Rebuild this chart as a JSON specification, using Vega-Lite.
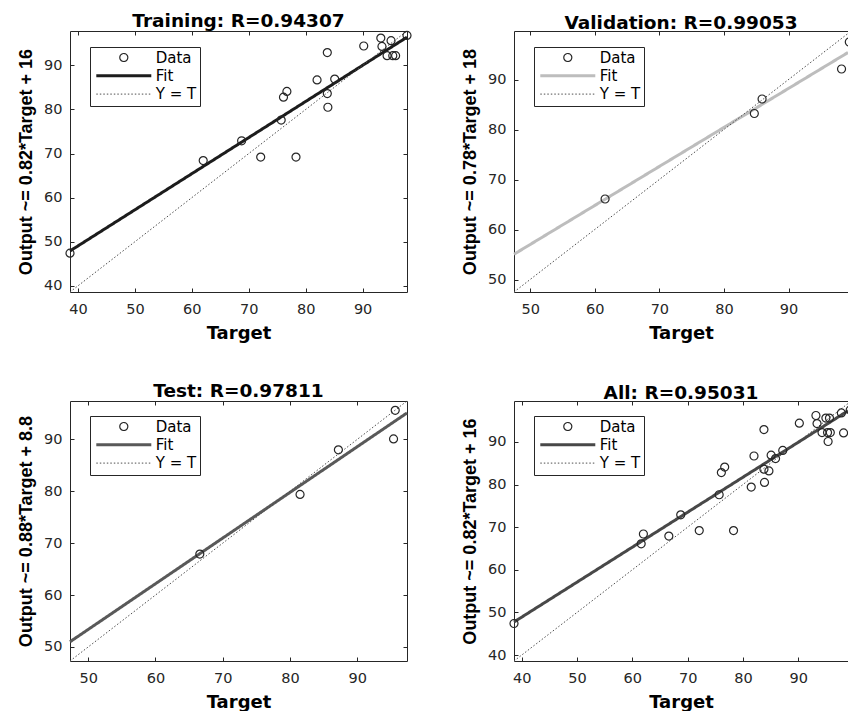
{
  "$schema": "https://vega.github.io/schema/vega-lite/v6.json",
  "background": "white",
  "padding": {"left": 17, "top": 12, "right": 0, "bottom": 0},
  "autosize": {"type": "pad"},
  "columns": 2,
  "spacing": {"row": 109, "column": 107},
  "bounds": "flush",
  "data": {"values": [
    {"panel": "Training", "series": "Data", "Target": 38.6, "Output": 47.4},
    {"panel": "Training", "series": "Data", "Target": 62.0, "Output": 68.4},
    {"panel": "Training", "series": "Data", "Target": 68.75, "Output": 72.9},
    {"panel": "Training", "series": "Data", "Target": 72.1, "Output": 69.2},
    {"panel": "Training", "series": "Data", "Target": 78.3, "Output": 69.2},
    {"panel": "Training", "series": "Data", "Target": 75.7, "Output": 77.6},
    {"panel": "Training", "series": "Data", "Target": 76.1, "Output": 82.8},
    {"panel": "Training", "series": "Data", "Target": 76.7, "Output": 84.1},
    {"panel": "Training", "series": "Data", "Target": 82.0, "Output": 86.7},
    {"panel": "Training", "series": "Data", "Target": 83.8, "Output": 92.9},
    {"panel": "Training", "series": "Data", "Target": 83.8, "Output": 83.6},
    {"panel": "Training", "series": "Data", "Target": 83.9, "Output": 80.5},
    {"panel": "Training", "series": "Data", "Target": 85.1, "Output": 86.9},
    {"panel": "Training", "series": "Data", "Target": 90.2, "Output": 94.4},
    {"panel": "Training", "series": "Data", "Target": 93.2, "Output": 96.2},
    {"panel": "Training", "series": "Data", "Target": 93.4, "Output": 94.3},
    {"panel": "Training", "series": "Data", "Target": 95.0, "Output": 95.6},
    {"panel": "Training", "series": "Data", "Target": 94.3, "Output": 92.2},
    {"panel": "Training", "series": "Data", "Target": 95.3, "Output": 92.2},
    {"panel": "Training", "series": "Data", "Target": 95.8, "Output": 92.2},
    {"panel": "Training", "series": "Data", "Target": 97.8, "Output": 96.8},
    {"panel": "Training", "series": "Fit", "Target": 38.6, "Output": 47.9},
    {"panel": "Training", "series": "Fit", "Target": 97.8, "Output": 96.4},
    {"panel": "Training", "series": "Y = T", "Target": 38.6, "Output": 38.6},
    {"panel": "Training", "series": "Y = T", "Target": 97.8, "Output": 97.8},

    {"panel": "Validation", "series": "Data", "Target": 61.6, "Output": 66.1},
    {"panel": "Validation", "series": "Data", "Target": 84.7, "Output": 83.2},
    {"panel": "Validation", "series": "Data", "Target": 85.9, "Output": 86.1},
    {"panel": "Validation", "series": "Data", "Target": 98.2, "Output": 92.1},
    {"panel": "Validation", "series": "Data", "Target": 99.4, "Output": 97.5},
    {"panel": "Validation", "series": "Fit", "Target": 47.5, "Output": 55.05},
    {"panel": "Validation", "series": "Fit", "Target": 99.2, "Output": 95.4},
    {"panel": "Validation", "series": "Y = T", "Target": 47.5, "Output": 47.5},
    {"panel": "Validation", "series": "Y = T", "Target": 99.2, "Output": 99.2},

    {"panel": "Test", "series": "Data", "Target": 66.6, "Output": 67.9},
    {"panel": "Test", "series": "Data", "Target": 81.5, "Output": 79.4},
    {"panel": "Test", "series": "Data", "Target": 87.2, "Output": 88.0},
    {"panel": "Test", "series": "Data", "Target": 95.4, "Output": 90.1},
    {"panel": "Test", "series": "Data", "Target": 95.65, "Output": 95.6},
    {"panel": "Test", "series": "Fit", "Target": 47.3, "Output": 51.0},
    {"panel": "Test", "series": "Fit", "Target": 97.4, "Output": 95.1},
    {"panel": "Test", "series": "Y = T", "Target": 47.3, "Output": 47.3},
    {"panel": "Test", "series": "Y = T", "Target": 97.4, "Output": 97.4},

    {"panel": "All", "series": "Data", "Target": 38.6, "Output": 47.4},
    {"panel": "All", "series": "Data", "Target": 62.0, "Output": 68.4},
    {"panel": "All", "series": "Data", "Target": 68.75, "Output": 72.9},
    {"panel": "All", "series": "Data", "Target": 72.1, "Output": 69.2},
    {"panel": "All", "series": "Data", "Target": 78.3, "Output": 69.2},
    {"panel": "All", "series": "Data", "Target": 75.7, "Output": 77.6},
    {"panel": "All", "series": "Data", "Target": 76.1, "Output": 82.8},
    {"panel": "All", "series": "Data", "Target": 76.7, "Output": 84.1},
    {"panel": "All", "series": "Data", "Target": 82.0, "Output": 86.7},
    {"panel": "All", "series": "Data", "Target": 83.8, "Output": 92.9},
    {"panel": "All", "series": "Data", "Target": 83.8, "Output": 83.6},
    {"panel": "All", "series": "Data", "Target": 83.9, "Output": 80.5},
    {"panel": "All", "series": "Data", "Target": 85.1, "Output": 86.9},
    {"panel": "All", "series": "Data", "Target": 90.2, "Output": 94.4},
    {"panel": "All", "series": "Data", "Target": 93.2, "Output": 96.2},
    {"panel": "All", "series": "Data", "Target": 93.4, "Output": 94.3},
    {"panel": "All", "series": "Data", "Target": 95.0, "Output": 95.6},
    {"panel": "All", "series": "Data", "Target": 94.3, "Output": 92.2},
    {"panel": "All", "series": "Data", "Target": 95.3, "Output": 92.2},
    {"panel": "All", "series": "Data", "Target": 95.8, "Output": 92.2},
    {"panel": "All", "series": "Data", "Target": 97.8, "Output": 96.8},
    {"panel": "All", "series": "Data", "Target": 61.6, "Output": 66.1},
    {"panel": "All", "series": "Data", "Target": 84.7, "Output": 83.2},
    {"panel": "All", "series": "Data", "Target": 85.9, "Output": 86.1},
    {"panel": "All", "series": "Data", "Target": 98.2, "Output": 92.1},
    {"panel": "All", "series": "Data", "Target": 99.4, "Output": 97.5},
    {"panel": "All", "series": "Data", "Target": 66.6, "Output": 67.9},
    {"panel": "All", "series": "Data", "Target": 81.5, "Output": 79.4},
    {"panel": "All", "series": "Data", "Target": 87.2, "Output": 88.0},
    {"panel": "All", "series": "Data", "Target": 95.4, "Output": 90.1},
    {"panel": "All", "series": "Data", "Target": 95.65, "Output": 95.6},
    {"panel": "All", "series": "Fit", "Target": 38.6, "Output": 47.75},
    {"panel": "All", "series": "Fit", "Target": 99.0, "Output": 97.3},
    {"panel": "All", "series": "Y = T", "Target": 38.6, "Output": 38.6},
    {"panel": "All", "series": "Y = T", "Target": 99.0, "Output": 99.0}
  ]},
  "resolve": {
    "scale": {"shape": "independent", "stroke": "independent", "strokeDash": "independent", "strokeWidth": "independent"},
    "legend": {"shape": "independent", "stroke": "independent", "strokeDash": "independent", "strokeWidth": "independent"}
  },
  "concat": [
    {
      "title": {"text": "Training: R=0.94307"},
      "width": 337, "height": 261,
      "resolve": {"axis": {"x": "independent", "y": "independent"}},
      "layer": [
        {
          "transform": [{"filter": "datum.panel === 'Training' && datum.series !== 'Data'"}],
          "mark": {"type": "line", "strokeCap": "butt"},
          "encoding": {
            "x": {"field": "Target", "type": "quantitative", "scale": {"domain": [38.6, 97.8], "nice": false, "zero": false},
                  "axis": {"orient": "top", "values": [40, 50, 60, 70, 80, 90], "labels": false, "title": null}},
            "y": {"field": "Output", "type": "quantitative", "scale": {"domain": [38.6, 97.8], "nice": false, "zero": false},
                  "axis": {"orient": "right", "values": [40, 50, 60, 70, 80, 90], "labels": false, "title": null}},
            "stroke": {"field": "series", "type": "nominal", "scale": {"domain": ["Data", "Fit", "Y = T"], "range": ["#262626", "#1c1c1c", "#4d4d4d"]}, "legend": {"title": null, "orient": "none", "legendX": 20, "legendY": 16}},
            "strokeDash": {"field": "series", "type": "nominal", "scale": {"domain": ["Data", "Fit", "Y = T"], "range": [[1, 0], [1, 0], [1.5, 2]]}, "legend": {"title": null, "orient": "none", "legendX": 20, "legendY": 16}},
            "strokeWidth": {"field": "series", "type": "nominal", "scale": {"type": "ordinal", "domain": ["Data", "Fit", "Y = T"], "range": [1.2, 3, 1]}, "legend": {"title": null, "orient": "none", "legendX": 20, "legendY": 16}}
          }
        },
        {
          "transform": [{"filter": "datum.panel === 'Training' && datum.series === 'Data'"}],
          "mark": {"type": "point", "filled": false, "size": 64, "strokeWidth": 1.2, "opacity": 1},
          "encoding": {
            "x": {"field": "Target", "type": "quantitative", "scale": {"domain": [38.6, 97.8], "nice": false, "zero": false},
                  "axis": {"orient": "bottom", "values": [40, 50, 60, 70, 80, 90], "title": "Target", "labelPadding": 14, "titlePadding": 9}},
            "y": {"field": "Output", "type": "quantitative", "scale": {"domain": [38.6, 97.8], "nice": false, "zero": false},
                  "axis": {"orient": "left", "values": [40, 50, 60, 70, 80, 90], "title": "Output ~= 0.82*Target + 16", "titleFont": "Liberation Sans", "labelPadding": 12, "titlePadding": 8}},
            "shape": {"field": "series", "type": "nominal", "scale": {"domain": ["Data", "Fit", "Y = T"], "range": ["circle", "M-6.875,0H6.875", "M-6.875,0H6.875"]}, "legend": {"title": null, "orient": "none", "legendX": 20, "legendY": 16}},
            "stroke": {"field": "series", "type": "nominal", "scale": {"domain": ["Data", "Fit", "Y = T"], "range": ["#262626", "#1c1c1c", "#4d4d4d"]}, "legend": {"title": null, "orient": "none", "legendX": 20, "legendY": 16}}
          }
        }
      ]
    },
    {
      "title": {"text": "Validation: R=0.99053"},
      "width": 334, "height": 261,
      "resolve": {"axis": {"x": "independent", "y": "independent"}},
      "layer": [
        {
          "transform": [{"filter": "datum.panel === 'Validation' && datum.series !== 'Data'"}],
          "mark": {"type": "line", "strokeCap": "butt"},
          "encoding": {
            "x": {"field": "Target", "type": "quantitative", "scale": {"domain": [47.5, 99.2], "nice": false, "zero": false},
                  "axis": {"orient": "top", "values": [50, 60, 70, 80, 90], "labels": false, "title": null}},
            "y": {"field": "Output", "type": "quantitative", "scale": {"domain": [47.5, 99.7], "nice": false, "zero": false}, "axis": null},
            "stroke": {"field": "series", "type": "nominal", "scale": {"domain": ["Data", "Fit", "Y = T"], "range": ["#262626", "#bdbdbd", "#4d4d4d"]}, "legend": {"title": null, "orient": "none", "legendX": 20, "legendY": 16}},
            "strokeDash": {"field": "series", "type": "nominal", "scale": {"domain": ["Data", "Fit", "Y = T"], "range": [[1, 0], [1, 0], [1.5, 2]]}, "legend": {"title": null, "orient": "none", "legendX": 20, "legendY": 16}},
            "strokeWidth": {"field": "series", "type": "nominal", "scale": {"type": "ordinal", "domain": ["Data", "Fit", "Y = T"], "range": [1.2, 3, 1]}, "legend": {"title": null, "orient": "none", "legendX": 20, "legendY": 16}}
          }
        },
        {
          "transform": [{"filter": "datum.panel === 'Validation' && datum.series === 'Data' && datum.Target < 99"}],
          "mark": {"type": "point", "filled": false, "size": 64, "strokeWidth": 1.2, "opacity": 1},
          "encoding": {
            "x": {"field": "Target", "type": "quantitative", "scale": {"domain": [47.5, 99.2], "nice": false, "zero": false},
                  "axis": {"orient": "bottom", "values": [50, 60, 70, 80, 90], "title": "Target", "labelPadding": 14, "titlePadding": 9}},
            "y": {"field": "Output", "type": "quantitative", "scale": {"domain": [47.5, 99.7], "nice": false, "zero": false},
                  "axis": {"orient": "left", "values": [50, 60, 70, 80, 90], "title": "Output ~= 0.78*Target + 18", "titleFont": "Liberation Sans", "labelPadding": 12, "titlePadding": 8}},
            "shape": {"field": "series", "type": "nominal", "scale": {"domain": ["Data", "Fit", "Y = T"], "range": ["circle", "M-6.875,0H6.875", "M-6.875,0H6.875"]}, "legend": {"title": null, "orient": "none", "legendX": 20, "legendY": 16}},
            "stroke": {"field": "series", "type": "nominal", "scale": {"domain": ["Data", "Fit", "Y = T"], "range": ["#262626", "#bdbdbd", "#4d4d4d"]}, "legend": {"title": null, "orient": "none", "legendX": 20, "legendY": 16}}
          }
        },
        {
          "transform": [{"filter": "datum.panel === 'Validation' && datum.series === 'Data' && datum.Target >= 99"}],
          "mark": {"type": "point", "filled": false, "size": 64, "strokeWidth": 1.2, "opacity": 1, "clip": true},
          "encoding": {
            "x": {"field": "Target", "type": "quantitative", "axis": null},
            "y": {"field": "Output", "type": "quantitative", "axis": null},
            "shape": {"field": "series", "type": "nominal", "scale": {"domain": ["Data", "Fit", "Y = T"], "range": ["circle", "M-6.875,0H6.875", "M-6.875,0H6.875"]}, "legend": {"title": null, "orient": "none", "legendX": 20, "legendY": 16}},
            "stroke": {"field": "series", "type": "nominal", "scale": {"domain": ["Data", "Fit", "Y = T"], "range": ["#262626", "#bdbdbd", "#4d4d4d"]}, "legend": {"title": null, "orient": "none", "legendX": 20, "legendY": 16}}
          }
        }
      ]
    },
    {
      "title": {"text": "Test: R=0.97811"},
      "width": 337, "height": 260,
      "resolve": {"axis": {"x": "independent", "y": "independent"}},
      "layer": [
        {
          "transform": [{"filter": "datum.panel === 'Test' && datum.series !== 'Data'"}],
          "mark": {"type": "line", "strokeCap": "butt"},
          "encoding": {
            "x": {"field": "Target", "type": "quantitative", "scale": {"domain": [47.3, 97.4], "nice": false, "zero": false},
                  "axis": {"orient": "top", "values": [50, 60, 70, 80, 90], "labels": false, "title": null}},
            "y": {"field": "Output", "type": "quantitative", "scale": {"domain": [47.3, 97.4], "nice": false, "zero": false},
                  "axis": {"orient": "right", "values": [50, 60, 70, 80, 90], "labels": false, "title": null}},
            "stroke": {"field": "series", "type": "nominal", "scale": {"domain": ["Data", "Fit", "Y = T"], "range": ["#262626", "#595959", "#4d4d4d"]}, "legend": {"title": null, "orient": "none", "legendX": 20, "legendY": 15}},
            "strokeDash": {"field": "series", "type": "nominal", "scale": {"domain": ["Data", "Fit", "Y = T"], "range": [[1, 0], [1, 0], [1.5, 2]]}, "legend": {"title": null, "orient": "none", "legendX": 20, "legendY": 15}},
            "strokeWidth": {"field": "series", "type": "nominal", "scale": {"type": "ordinal", "domain": ["Data", "Fit", "Y = T"], "range": [1.2, 3, 1]}, "legend": {"title": null, "orient": "none", "legendX": 20, "legendY": 15}}
          }
        },
        {
          "transform": [{"filter": "datum.panel === 'Test' && datum.series === 'Data'"}],
          "mark": {"type": "point", "filled": false, "size": 64, "strokeWidth": 1.2, "opacity": 1},
          "encoding": {
            "x": {"field": "Target", "type": "quantitative", "scale": {"domain": [47.3, 97.4], "nice": false, "zero": false},
                  "axis": {"orient": "bottom", "values": [50, 60, 70, 80, 90], "title": "Target", "labelPadding": 14, "titlePadding": 9}},
            "y": {"field": "Output", "type": "quantitative", "scale": {"domain": [47.3, 97.4], "nice": false, "zero": false},
                  "axis": {"orient": "left", "values": [50, 60, 70, 80, 90], "title": "Output ~= 0.88*Target + 8.8", "titleFont": "Liberation Sans", "labelPadding": 12, "titlePadding": 8}},
            "shape": {"field": "series", "type": "nominal", "scale": {"domain": ["Data", "Fit", "Y = T"], "range": ["circle", "M-6.875,0H6.875", "M-6.875,0H6.875"]}, "legend": {"title": null, "orient": "none", "legendX": 20, "legendY": 15}},
            "stroke": {"field": "series", "type": "nominal", "scale": {"domain": ["Data", "Fit", "Y = T"], "range": ["#262626", "#595959", "#4d4d4d"]}, "legend": {"title": null, "orient": "none", "legendX": 20, "legendY": 15}}
          }
        }
      ]
    },
    {
      "title": {"text": "All: R=0.95031"},
      "width": 334, "height": 260,
      "resolve": {"axis": {"x": "independent", "y": "independent"}},
      "layer": [
        {
          "transform": [{"filter": "datum.panel === 'All' && datum.series !== 'Data'"}],
          "mark": {"type": "line", "strokeCap": "butt"},
          "encoding": {
            "x": {"field": "Target", "type": "quantitative", "scale": {"domain": [38.6, 99.0], "nice": false, "zero": false},
                  "axis": {"orient": "top", "values": [40, 50, 60, 70, 80, 90], "labels": false, "title": null}},
            "y": {"field": "Output", "type": "quantitative", "scale": {"domain": [38.6, 99.6], "nice": false, "zero": false}, "axis": null},
            "stroke": {"field": "series", "type": "nominal", "scale": {"domain": ["Data", "Fit", "Y = T"], "range": ["#262626", "#484848", "#4d4d4d"]}, "legend": {"title": null, "orient": "none", "legendX": 20, "legendY": 15}},
            "strokeDash": {"field": "series", "type": "nominal", "scale": {"domain": ["Data", "Fit", "Y = T"], "range": [[1, 0], [1, 0], [1.5, 2]]}, "legend": {"title": null, "orient": "none", "legendX": 20, "legendY": 15}},
            "strokeWidth": {"field": "series", "type": "nominal", "scale": {"type": "ordinal", "domain": ["Data", "Fit", "Y = T"], "range": [1.2, 3, 1]}, "legend": {"title": null, "orient": "none", "legendX": 20, "legendY": 15}}
          }
        },
        {
          "transform": [{"filter": "datum.panel === 'All' && datum.series === 'Data' && datum.Target < 99"}],
          "mark": {"type": "point", "filled": false, "size": 64, "strokeWidth": 1.2, "opacity": 1},
          "encoding": {
            "x": {"field": "Target", "type": "quantitative", "scale": {"domain": [38.6, 99.0], "nice": false, "zero": false},
                  "axis": {"orient": "bottom", "values": [40, 50, 60, 70, 80, 90], "title": "Target", "labelPadding": 14, "titlePadding": 9}},
            "y": {"field": "Output", "type": "quantitative", "scale": {"domain": [38.6, 99.6], "nice": false, "zero": false},
                  "axis": {"orient": "left", "values": [40, 50, 60, 70, 80, 90], "title": "Output ~= 0.82*Target + 16", "titleFont": "Liberation Sans", "labelPadding": 12, "titlePadding": 8}},
            "shape": {"field": "series", "type": "nominal", "scale": {"domain": ["Data", "Fit", "Y = T"], "range": ["circle", "M-6.875,0H6.875", "M-6.875,0H6.875"]}, "legend": {"title": null, "orient": "none", "legendX": 20, "legendY": 15}},
            "stroke": {"field": "series", "type": "nominal", "scale": {"domain": ["Data", "Fit", "Y = T"], "range": ["#262626", "#484848", "#4d4d4d"]}, "legend": {"title": null, "orient": "none", "legendX": 20, "legendY": 15}}
          }
        },
        {
          "transform": [{"filter": "datum.panel === 'All' && datum.series === 'Data' && datum.Target >= 99"}],
          "mark": {"type": "point", "filled": false, "size": 64, "strokeWidth": 1.2, "opacity": 1, "clip": true},
          "encoding": {
            "x": {"field": "Target", "type": "quantitative", "axis": null},
            "y": {"field": "Output", "type": "quantitative", "axis": null},
            "shape": {"field": "series", "type": "nominal", "scale": {"domain": ["Data", "Fit", "Y = T"], "range": ["circle", "M-6.875,0H6.875", "M-6.875,0H6.875"]}, "legend": {"title": null, "orient": "none", "legendX": 20, "legendY": 15}},
            "stroke": {"field": "series", "type": "nominal", "scale": {"domain": ["Data", "Fit", "Y = T"], "range": ["#262626", "#484848", "#4d4d4d"]}, "legend": {"title": null, "orient": "none", "legendX": 20, "legendY": 15}}
          }
        }
      ]
    }
  ],
  "config": {
    "view": {"stroke": null},
    "font": "DejaVu Sans",
    "axis": {"grid": false, "domainColor": "#262626", "domainWidth": 1, "tickColor": "#262626", "tickSize": -4, "tickWidth": 1,
             "labelFont": "DejaVu Sans", "labelFontSize": 14.5, "labelColor": "#262626", "labelFlush": false, "labelOverlap": false,
             "titleFont": "DejaVu Sans", "titleFontSize": 18, "titleFontWeight": "bold", "titleColor": "#000000"},
    "title": {"font": "DejaVu Sans", "fontSize": 18.5, "fontWeight": "bold", "color": "#000000", "baseline": "alphabetic", "offset": -1.5},
    "legend": {"padding": 3, "strokeColor": "#262626", "fillColor": "#ffffff", "labelFont": "DejaVu Sans", "labelFontSize": 15, "labelColor": "#000000",
               "symbolSize": 64, "symbolOffset": 23.3, "labelOffset": 24.4, "rowPadding": 2.3, "symbolFillColor": "transparent"}
  }
}
